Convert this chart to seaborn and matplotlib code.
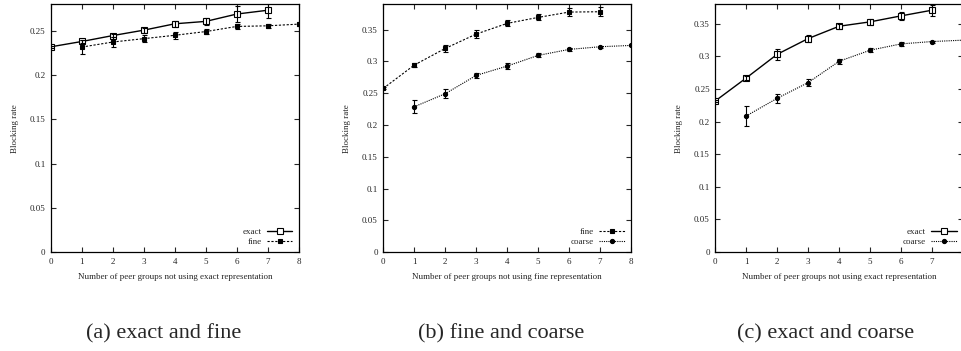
import matplotlib
matplotlib.use('Agg')

import matplotlib.pyplot as plt
import seaborn as sns
from matplotlib.ticker import FormatStrFormatter, MultipleLocator

# data (x = number of peer groups)
a_exact_x = [0, 1, 2, 3, 4, 5, 6, 7]
a_exact_y = [0.232, 0.238, 0.2447, 0.2508, 0.258, 0.2607, 0.269, 0.2733]
a_exact_err = [0.001, 0.0015, 0.002, 0.0027, 0.0034, 0.004, 0.0095, 0.0088]
a_fine_x = [1, 2, 3, 4, 5, 6, 7, 8]
a_fine_y = [0.2317, 0.2374, 0.2412, 0.245, 0.2492, 0.255, 0.2557, 0.2576]
a_fine_err = [0.0076, 0.0057, 0.004, 0.004, 0.003, 0.003, 0.0023, 0.002]

b_fine_x = [0, 1, 2, 3, 4, 5, 6, 7]
b_fine_y = [0.2577, 0.2944, 0.3206, 0.3432, 0.36, 0.3694, 0.3778, 0.3783]
b_fine_err = [0.0015, 0.0037, 0.0058, 0.0058, 0.0047, 0.0047, 0.0068, 0.0068]
b_coarse_x = [1, 2, 3, 4, 5, 6, 7, 8]
b_coarse_y = [0.2288, 0.2493, 0.2781, 0.2928, 0.3096, 0.319, 0.3232, 0.3253]
b_coarse_err = [0.0105, 0.0073, 0.0042, 0.0042, 0.0031, 0.0026, 0.0015, 0.0015]

c_exact_x = [0, 1, 2, 3, 4, 5, 6, 7]
c_exact_y = [0.2318, 0.2671, 0.3034, 0.3275, 0.3464, 0.3531, 0.3623, 0.371]
c_exact_err = [0.0015, 0.0036, 0.0082, 0.006, 0.004, 0.005, 0.006, 0.0087]
c_coarse_x = [1, 2, 3, 4, 5, 6, 7, 8]
c_coarse_y = [0.2088, 0.2359, 0.26, 0.2927, 0.3096, 0.3193, 0.3229, 0.325]
c_coarse_err = [0.015, 0.0072, 0.005, 0.004, 0.003, 0.0026, 0.0015, 0.001]

captions = ["(a) exact and fine", "(b) fine and coarse", "(c) exact and coarse"]
xlabels = ["Number of peer groups not using exact representation",
           "Number of peer groups not using fine representation",
           "Number of peer groups not using exact representation"]
ymax = [0.28, 0.39, 0.38]

sns.set_style('ticks')
plt.rcParams['font.family'] = ['Liberation Serif', 'DejaVu Serif']

# line styles per series
STYLES = {
    'exact': dict(ls='-', marker='s', mfc='white', ms=4, lw=1.0),
    'fine': dict(ls=(0, (2, 1.5)), marker='s', mfc='black', ms=3, lw=0.8),
    'coarse': dict(ls=(0, (1, 1)), marker='o', mfc='black', ms=3, lw=0.8),
}


def draw_series(ax, x, y, err, name):
    st = STYLES[name]
    sns.lineplot(x=x, y=y, ax=ax, color='black', label=name,
                 linestyle=st['ls'], linewidth=st['lw'], marker=st['marker'],
                 markerfacecolor=st['mfc'], markeredgecolor='black',
                 markersize=st['ms'], markeredgewidth=0.8)
    ax.errorbar(x, y, yerr=err, fmt='none', ecolor='black', elinewidth=0.8,
                capsize=1.8, capthick=0.8)


fig = plt.figure(figsize=(9.62, 3.51), dpi=100)
lefts = [0.053, 0.3985, 0.7436]
axes = [fig.add_axes([l, 0.282, 0.2575, 0.7057]) for l in lefts]

draw_series(axes[0], a_exact_x, a_exact_y, a_exact_err, 'exact')
draw_series(axes[0], a_fine_x, a_fine_y, a_fine_err, 'fine')
draw_series(axes[1], b_fine_x, b_fine_y, b_fine_err, 'fine')
draw_series(axes[1], b_coarse_x, b_coarse_y, b_coarse_err, 'coarse')
draw_series(axes[2], c_exact_x, c_exact_y, c_exact_err, 'exact')
draw_series(axes[2], c_coarse_x, c_coarse_y, c_coarse_err, 'coarse')

for i, ax in enumerate(axes):
    ax.set_xlim(0, 8)
    ax.set_ylim(0, ymax[i])
    ax.xaxis.set_major_locator(MultipleLocator(1))
    ax.yaxis.set_major_locator(MultipleLocator(0.05))
    ax.yaxis.set_major_formatter(FormatStrFormatter('%g'))
    ax.tick_params(direction='in', length=3.5, width=0.8, labelsize=6.5,
                   top=True, right=True, pad=4)
    for sp in ax.spines.values():
        sp.set_visible(True)
        sp.set_linewidth(0.9)
        sp.set_color('black')
    ax.set_xlabel(xlabels[i], fontsize=6.5, labelpad=5)
    ax.set_ylabel('Blocking rate', fontsize=6.5, labelpad=8)
    ax.legend(loc='lower right', frameon=False, fontsize=6.5, markerfirst=False,
              handlelength=2.8, handletextpad=0.6, labelspacing=0.1,
              borderaxespad=0.3, numpoints=1)
    ax.grid(False)

cap_x = [164, 501, 826]
for cx, cap in zip(cap_x, captions):
    fig.text(cx / 962, 0.05, cap, ha='center', va='center', fontsize=16)

fig.savefig('out.png', dpi=100)
